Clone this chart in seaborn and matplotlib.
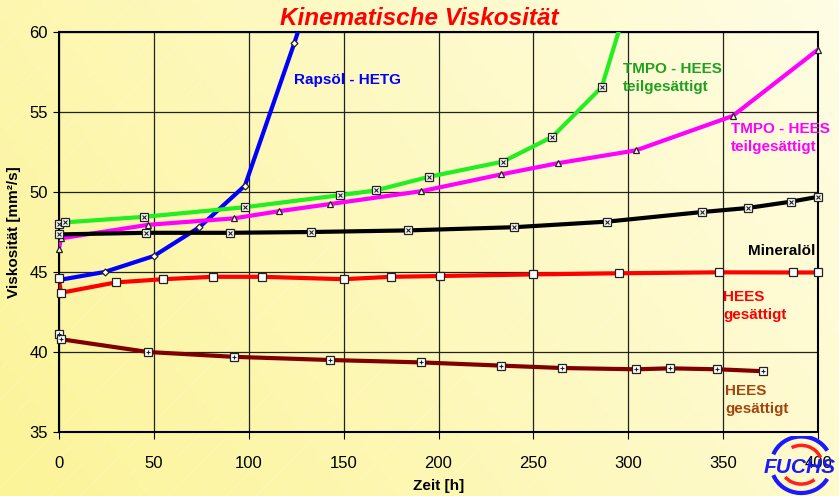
import numpy as np
import pandas as pd
import matplotlib.pyplot as plt
import seaborn as sns
from matplotlib.colors import LinearSegmentedColormap
from matplotlib.patches import Arc

# -----------------------------
# DATA
# -----------------------------
raps_t = [0, 24, 50, 74, 98, 124, 130]
raps_v = [44.5, 45.0, 46.0, 47.8, 50.4, 59.3, 61.5]

tmpo_g_t = [0, 3, 45, 98, 148, 167, 195, 234, 260, 286, 300]
tmpo_g_v = [48.0, 48.1, 48.45, 49.05, 49.8, 50.1, 50.95, 51.9, 53.45, 56.55, 62.0]

tmpo_m_t = [0, 1, 47, 92, 116, 143, 191, 233, 263, 304, 355, 400]
tmpo_m_v = [46.45, 47.1, 47.95, 48.35, 48.8, 49.25, 50.05, 51.1, 51.8, 52.6, 54.75, 58.9]

mineral_t = [0, 46, 90, 133, 184, 240, 289, 339, 363, 386, 400]
mineral_v = [47.35, 47.45, 47.45, 47.5, 47.6, 47.8, 48.15, 48.75, 49.0, 49.4, 49.7]

hees_r_t = [0, 1, 30, 55, 81, 107, 150, 175, 201, 250, 295, 348, 387, 400]
hees_r_v = [44.6, 43.7, 44.35, 44.55, 44.7, 44.7, 44.55, 44.7, 44.75, 44.85, 44.92, 44.98, 44.97, 44.97]

hees_b_t = [0, 1, 47, 92, 143, 191, 233, 265, 304, 322, 347, 371]
hees_b_v = [41.1, 40.8, 40.0, 39.7, 39.5, 39.35, 39.15, 39.0, 38.92, 38.98, 38.92, 38.8]

x_ticks = [0, 50, 100, 150, 200, 250, 300, 350, 400]
y_ticks = [35, 40, 45, 50, 55, 60]

plt.rcParams['font.family'] = ['Liberation Sans', 'DejaVu Sans']

fig = plt.figure(figsize=(8.39, 4.96), dpi=100)

# background gradient with faint stripes
bg = fig.add_axes([0, 0, 1, 1], zorder=-10)
gx, gy = np.meshgrid(np.linspace(0, 1, 200), np.linspace(0, 1, 120))
grad = 0.7 * gx + 0.3 * (1 - gy)
cmap = LinearSegmentedColormap.from_list("bg", ["#fcf498", "#fffde4"])
bg.imshow(grad, cmap=cmap, aspect="auto", extent=[0, 1, 0, 1], origin="upper")
for s in np.arange(-1.2, 1.0, 0.035):
    bg.plot([s, s + 1.0], [0, 1.0 * 839 / 496], color="white", lw=0.8, alpha=0.15)
bg.set_xlim(0, 1)
bg.set_ylim(0, 1)
bg.axis("off")

ax = fig.add_axes([0.0703, 0.129, 0.9047, 0.8065])
ax.set_facecolor("none")

series = [
    (raps_t, raps_v, "#0000ff", "D", 3.5, None),
    (tmpo_g_t, tmpo_g_v, "#22ee22", "s", 5.8, "x"),
    (tmpo_m_t, tmpo_m_v, "#ff00ff", "^", 4.8, None),
    (mineral_t, mineral_v, "#000000", "s", 5.8, "x"),
    (hees_r_t, hees_r_v, "#ff0000", "s", 5.2, None),
    (hees_b_t, hees_b_v, "#800000", "s", 5.8, "+"),
]

for t, v, col, mk, ms, inner in series:
    df = pd.DataFrame({"t": t, "v": v})
    sns.lineplot(data=df, x="t", y="v", color=col, linewidth=3, sort=False,
                 ax=ax, zorder=3)
    vis = df[df["v"] <= 60]
    ax.plot(vis["t"], vis["v"], linestyle="none", marker=mk, markersize=ms,
            markerfacecolor="white", markeredgecolor="#222222",
            markeredgewidth=0.9, clip_on=False, zorder=4)
    if inner:
        ax.plot(vis["t"], vis["v"], linestyle="none", marker=inner,
                markersize=ms * 0.6, color="#222222", markeredgewidth=0.8,
                clip_on=False, zorder=5)

ax.set_xlim(0, 400)
ax.set_ylim(35, 60)
ax.set_xticks(x_ticks)
ax.set_yticks(y_ticks)
ax.grid(True, color="#222222", linewidth=0.9)
ax.set_axisbelow(True)
for sp in ax.spines.values():
    sp.set_color("black")
    sp.set_linewidth(1.5)
ax.tick_params(axis="x", labelsize=12, length=5, pad=12)
ax.tick_params(axis="y", labelsize=12, length=4, pad=4)

ax.set_xlabel("Zeit [h]", fontsize=11, fontweight="bold", labelpad=6)
ax.set_ylabel("Viskosität [mm²/s]", fontsize=11, fontweight="bold", labelpad=6)

fig.text(0.5, 0.963, "Kinematische Viskosität", color="red", fontsize=17.5,
         fontweight="bold", fontstyle="italic", ha="center", va="center")

lab = dict(fontsize=11, fontweight="bold", ha="left", va="center", linespacing=1.35)
ax.text(124, 57.0, "Rapsöl - HETG", color="#0000ff", **lab)
ax.text(297, 57.1, "TMPO - HEES\nteilgesättigt", color="#1fa01f", **lab)
ax.text(354, 53.4, "TMPO - HEES\nteilgesättigt", color="#ff00ff", **lab)
ax.text(363, 46.3, "Mineralöl", color="black", **lab)
ax.text(350, 42.9, "HEES\ngesättigt", color="#ff0000", **lab)
ax.text(351, 37.0, "HEES\ngesättigt", color="#a3450f", **lab)

# FUCHS logo
fig.text(0.953, 0.057, "FUCHS", color="#1a1aff", fontsize=15, fontweight="bold",
         fontstyle="italic", ha="center", va="center", zorder=20)
logo = fig.add_axes([0.90, 0.0, 0.11, 0.12], zorder=15)
logo.set_xlim(-1, 1)
logo.set_ylim(-1, 1)
logo.axis("off")
logo.add_patch(Arc((0, 0.05), 1.3, 1.9, theta1=40, theta2=150, color="#1a1aff", lw=3))
logo.add_patch(Arc((0, 0.05), 1.3, 1.9, theta1=210, theta2=320, color="#1a1aff", lw=3))
logo.add_patch(Arc((0, 0.05), 0.9, 1.3, theta1=30, theta2=110, color="#ff2020", lw=2.5))
logo.add_patch(Arc((0, 0.05), 0.9, 1.3, theta1=230, theta2=300, color="#ff2020", lw=2.5))

plt.savefig("out.png", dpi=100)
